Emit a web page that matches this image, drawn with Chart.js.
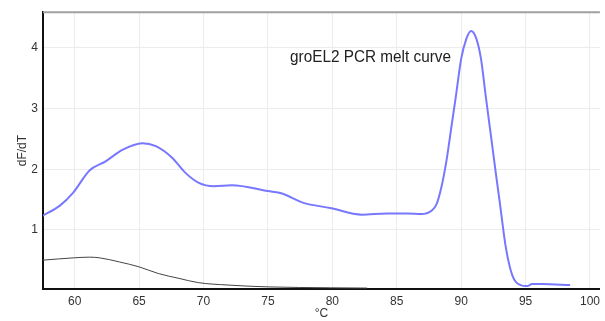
<!DOCTYPE html>
<html>
<head>
<meta charset="utf-8">
<script src="https://cdn.jsdelivr.net/npm/chart.js@4/dist/chart.umd.min.js"></script>
<style>
  body { margin: 0; background: #fff; }
  canvas { display: block; }
</style>
</head>
<body>
<canvas id="chart" width="605" height="321"></canvas>
<script>
// groEL2 sample (blue) - temperature in °C and dF/dT
const blueTemps = [57.5, 58.85, 59.87, 61.15, 62.4, 63.7, 65.25, 66.3, 67.56, 68.6, 69.6, 70.8, 72.2, 75, 76.1, 77.7, 79.85, 82.3, 84.2, 85.8, 86.9, 87.7, 88.08, 88.46, 88.85, 89.23, 89.6, 90.0, 90.4, 90.77, 91.15, 91.54, 91.9, 92.3, 92.7, 93.0, 93.46, 93.97, 94.6, 95.13, 95.5, 96.3, 98.46]
const blueValues = [1.23, 1.40, 1.61, 1.98, 2.13, 2.32, 2.43, 2.38, 2.19, 1.94, 1.78, 1.72, 1.735, 1.64, 1.60, 1.45, 1.36, 1.25, 1.27, 1.27, 1.26, 1.315, 1.42, 1.70, 2.13, 2.68, 3.22, 3.82, 4.15, 4.28, 4.17, 3.82, 3.22, 2.57, 1.92, 1.45, 0.72, 0.25, 0.09, 0.073, 0.106, 0.106, 0.09]

// control (dark grey)
const greyTemps = [57.5, 60, 61.15, 61.9, 63.5, 65, 66.5, 68.1, 69.6, 71.9, 75, 79.85, 82.7]
const greyValues = [0.50, 0.54, 0.55, 0.54, 0.47, 0.39, 0.28, 0.20, 0.13, 0.09, 0.06, 0.045, 0.04]

const xTicks = [60, 65, 70, 75, 80, 85, 90, 95, 100]
const yTicks = [1, 2, 3, 4]
const chartLabel = 'groEL2 PCR melt curve'

const toPoints = (xs, ys) => xs.map((x, i) => ({ x, y: ys[i] }))

const FONT = '"Liberation Sans", Arial, sans-serif'

const decor = {
  id: 'decor',
  afterDraw(chart) {
    const { ctx, chartArea } = chart
    ctx.save()
    ctx.strokeStyle = '#a0a0a0'
    ctx.lineWidth = 2
    ctx.beginPath()
    ctx.moveTo(chartArea.left, chartArea.top)
    ctx.lineTo(chartArea.right, chartArea.top)
    ctx.stroke()
    // label inside the plot, slightly condensed like the original
    ctx.fillStyle = '#222'
    ctx.font = '17px ' + FONT
    ctx.textBaseline = 'middle'
    const w = ctx.measureText(chartLabel).width
    ctx.translate(290, 57)
    ctx.scale(161 / w, 1)
    ctx.fillText(chartLabel, 0, 0)
    ctx.restore()
  }
}

new Chart(document.getElementById('chart').getContext('2d'), {
  type: 'line',
  data: {
    datasets: [
      {
        data: toPoints(greyTemps, greyValues),
        borderColor: '#444',
        borderWidth: 1,
        pointRadius: 0,
        cubicInterpolationMode: 'monotone'
      },
      {
        data: toPoints(blueTemps, blueValues),
        borderColor: '#7878ff',
        borderWidth: 2,
        pointRadius: 0,
        cubicInterpolationMode: 'monotone'
      }
    ]
  },
  options: {
    responsive: false,
    animation: false,
    layout: { padding: { top: 9, left: 0, right: 0, bottom: 0 } },
    plugins: { legend: { display: false }, tooltip: { enabled: false } },
    scales: {
      x: {
        type: 'linear',
        min: 57.54,
        max: 100.77,
        afterBuildTicks: s => { s.ticks = xTicks.map(v => ({ value: v })) },
        afterFit: s => { s.height = 32 },
        grid: { color: '#ececec', drawTicks: false },
        border: { color: '#111', width: 2 },
        ticks: { padding: 5, color: '#333', font: { family: FONT, size: 12 } },
        title: { display: true, text: '°C', color: '#333', padding: 0, font: { family: FONT, size: 12 } }
      },
      y: {
        min: 0.025,
        max: 4.59,
        afterBuildTicks: s => { s.ticks = yTicks.map(v => ({ value: v })) },
        afterFit: s => { s.width = 43 },
        grid: { color: '#ececec', drawTicks: false },
        border: { color: '#111', width: 2 },
        ticks: { padding: 5, color: '#333', font: { family: FONT, size: 12 } },
        title: { display: true, text: 'dF/dT', color: '#333', padding: { top: 15, bottom: 0 }, font: { family: FONT, size: 12 } }
      }
    }
  },
  plugins: [decor]
})
</script>
</body>
</html>
